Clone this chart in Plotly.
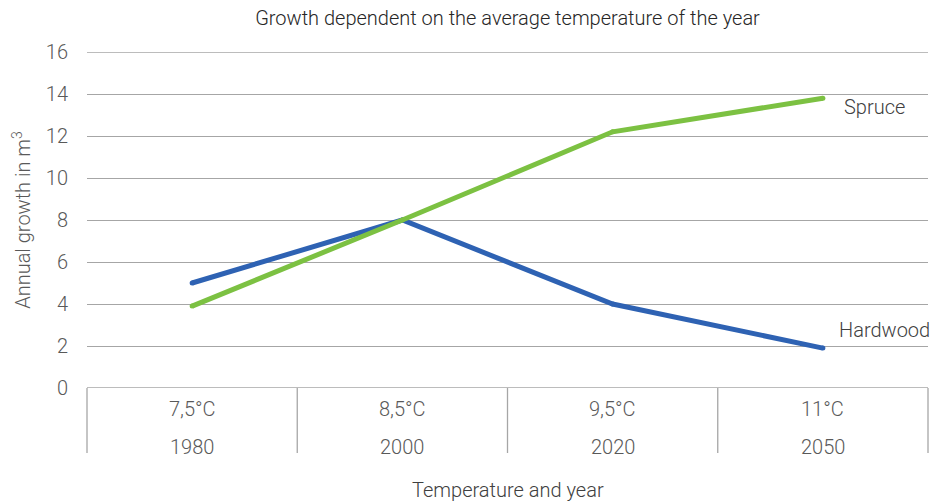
import plotly.graph_objects as go

# Chart data
temperatures = ["7,5°C", "8,5°C", "9,5°C", "11°C"]
years = ["1980", "2000", "2020", "2050"]
hardwood = [5.0, 8.0, 4.0, 1.9]
spruce = [3.9, 8.0, 12.2, 13.8]
y_ticks = [0, 2, 4, 6, 8, 10, 12, 14, 16]

BLUE = "#2E62B3"
GREEN = "#7CC142"
GRID = "#A6A6A6"
TEXT = "#595959"
FONT = "Roboto"
FS = 20

idx = list(range(len(years)))
n = len(years)


def font(color=TEXT):
    return dict(family=FONT, size=FS, color=color, weight=300)


fig = go.Figure()
# Lines with small round markers so ends and joints look rounded
fig.add_trace(go.Scatter(x=idx, y=hardwood, mode="lines+markers", name="Hardwood",
                         line=dict(color=BLUE, width=5),
                         marker=dict(color=BLUE, size=5, line=dict(width=0)),
                         showlegend=False))
fig.add_trace(go.Scatter(x=idx, y=spruce, mode="lines+markers", name="Spruce",
                         line=dict(color=GREEN, width=5),
                         marker=dict(color=GREEN, size=5, line=dict(width=0)),
                         showlegend=False))

# End-of-line series labels
fig.add_annotation(x=idx[-1], y=spruce[-1], text="Spruce", showarrow=False,
                   xanchor="left", xshift=19, yshift=-9, font=font("#404040"))
fig.add_annotation(x=idx[-1], y=hardwood[-1], text="Hardwood", showarrow=False,
                   xanchor="left", xshift=14, yshift=18, font=font("#404040"))

# Outer grid lines at both ends of the value range
for v in (y_ticks[0], y_ticks[-1]):
    fig.add_shape(type="line", xref="paper", yref="y", x0=0, x1=1, y0=v, y1=v,
                  line=dict(color=GRID, width=1.3), layer="below")

# Category table beneath the plot: two label rows with vertical dividers
for k in range(n + 1):
    fig.add_shape(type="line", xref="paper", yref="paper",
                  x0=k / n, x1=k / n, y0=0, y1=-65 / 336,
                  line=dict(color=GRID, width=1.3))
for i in idx:
    fig.add_annotation(x=i, y=0, xref="x", yref="paper", text=temperatures[i],
                       showarrow=False, yanchor="middle", yshift=-21, font=font())
    fig.add_annotation(x=i, y=0, xref="x", yref="paper", text=years[i],
                       showarrow=False, yanchor="middle", yshift=-59, font=font())
fig.add_annotation(x=0.5, y=0, xref="paper", yref="paper", text="Temperature and year",
                   showarrow=False, yanchor="middle", yshift=-102, font=font("#404040"))

fig.update_layout(
    width=935, height=502,
    margin=dict(l=87, r=7, t=52, b=114),
    paper_bgcolor="white", plot_bgcolor="white",
    font=font(),
    title=dict(text="Growth dependent on the average temperature of the year",
               x=0.5, xref="paper", xanchor="center", y=1 - 18 / 502, yanchor="middle",
               font=font("#262626")),
    xaxis=dict(range=[-0.5, n - 0.5], showticklabels=False, showgrid=False,
               zeroline=False, showline=False, ticks=""),
    yaxis=dict(range=[y_ticks[0], y_ticks[-1]], tickvals=y_ticks, showgrid=True,
               gridcolor=GRID, gridwidth=1.3, zeroline=False, showline=False, ticks="",
               ticklabelstandoff=18, tickfont=font(),
               title=dict(text="Annual growth in m<sup>3</sup>", standoff=9,
                          font=font())),
)

fig.write_html("out.html")
